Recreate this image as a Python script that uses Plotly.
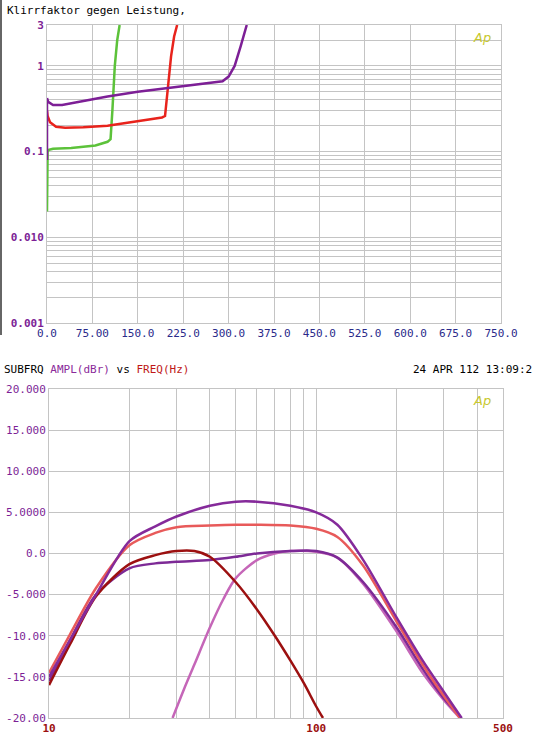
import plotly.graph_objects as go

# Klirrfaktor gegen Leistung (oben)
thd_green_x = [0, 0, 1, 3, 10, 40, 80, 100, 105, 108, 112, 116, 120]
thd_green_y = [0.02, 0.06, 0.1, 0.105, 0.108, 0.11, 0.118, 0.13, 0.14, 0.3, 1.0, 2.0, 3.0]
thd_red_x = [0, 1, 5, 15, 30, 60, 100, 150, 190, 195, 200, 205, 210, 215]
thd_red_y = [0.3, 0.26, 0.22, 0.195, 0.19, 0.192, 0.2, 0.225, 0.25, 0.26, 0.6, 1.3, 2.2, 3.0]
thd_purple_x = [0, 0, 2, 10, 25, 60, 100, 150, 200, 250, 290, 300, 310, 320, 330]
thd_purple_y = [0.08, 0.42, 0.38, 0.35, 0.35, 0.39, 0.44, 0.5, 0.55, 0.6, 0.66, 0.75, 1.0, 1.7, 3.0]

# SUBFRQ Amplitude vs Frequenz (unten)
fr_top_f = [10, 12, 15, 20, 25, 30, 40, 50, 60, 80, 100, 120, 150, 200, 250, 300, 350]
fr_top_a = [-15.0, -10.5, -5.0, 1.5, 3.3, 4.5, 5.8, 6.3, 6.3, 5.8, 5.0, 3.5, -0.8, -7.8, -13.0, -16.8, -20.0]
fr_salmon_f = [10, 12, 15, 20, 25, 30, 40, 50, 60, 80, 100, 120, 150, 200, 250, 300, 345]
fr_salmon_a = [-14.5, -9.8, -4.2, 1.0, 2.5, 3.2, 3.4, 3.5, 3.5, 3.4, 3.0, 2.0, -1.5, -8.3, -13.5, -17.3, -20.0]
fr_dark_f = [10, 12, 15, 20, 25, 30, 35, 40, 50, 60, 70, 80, 90, 100, 106]
fr_dark_a = [-16.0, -11.0, -5.2, -1.3, -0.2, 0.3, 0.3, -0.4, -3.5, -6.8, -10.0, -13.0, -15.8, -18.6, -20.0]
fr_low_f = [10, 12, 15, 20, 25, 30, 40, 50, 60, 80, 100, 120, 150, 200, 250, 300, 350]
fr_low_a = [-15.5, -10.5, -5.0, -1.8, -1.2, -1.0, -0.8, -0.4, 0.0, 0.3, 0.3, -0.5, -3.5, -9.0, -14.0, -17.6, -20.0]
fr_hp_f = [29, 32, 35, 40, 45, 50, 60, 70, 80, 100, 120, 150, 200, 250, 300, 345]
fr_hp_a = [-20.0, -16.5, -13.5, -9.0, -5.5, -3.0, -0.8, 0.0, 0.3, 0.2, -0.5, -3.7, -9.5, -14.5, -17.8, -20.0]

x_ticks_top = [0, 75, 150, 225, 300, 375, 450, 525, 600, 675, 750]
x_labels_top = ["0.0", "75.00", "150.0", "225.0", "300.0", "375.0", "450.0", "525.0", "600.0", "675.0", "750.0"]
y_ticks_top = [0.001, 0.01, 0.1, 1, 3]
y_labels_top = ["0.001", "0.010", "0.1", "1", "3"]
y_ticks_bot = [20, 15, 10, 5, 0, -5, -10, -15, -20]
y_labels_bot = ["20.000", "15.000", "10.000", "5.0000", "0.0", "-5.000", "-10.00", "-15.00", "-20.00"]

MONO = "DejaVu Sans Mono"
GRID = "#c4c4c4"
L, R = 45, 29
W = 533 - L - R
H = 756


def px(p):
    # Pixel im Bild -> paper-x
    return (p - L) / W


def py(p):
    # Pixel im Bild -> paper-y
    return 1 - p / H


fig = go.Figure()
for xs, ys, col in [(thd_green_x, thd_green_y, "#5cc23a"),
                    (thd_red_x, thd_red_y, "#e8231c"),
                    (thd_purple_x, thd_purple_y, "#7d1f96")]:
    fig.add_trace(go.Scatter(x=xs, y=ys, mode="lines", line=dict(color=col, width=2.5),
                             xaxis="x", yaxis="y", showlegend=False))

for xs, ys, col in [(fr_hp_f, fr_hp_a, "#c566b8"),
                    (fr_low_f, fr_low_a, "#7d2a96"),
                    (fr_dark_f, fr_dark_a, "#9c1010"),
                    (fr_salmon_f, fr_salmon_a, "#e85a5a"),
                    (fr_top_f, fr_top_a, "#852a9a")]:
    fig.add_trace(go.Scatter(x=xs, y=ys, mode="lines",
                             line=dict(color=col, width=2.5, shape="spline", smoothing=0.8),
                             xaxis="x2", yaxis="y2", showlegend=False))

common = dict(showgrid=True, gridcolor=GRID, zeroline=False, linecolor=GRID, mirror=True,
              ticks="", automargin=False)
fig.update_layout(
    width=533, height=H,
    margin=dict(l=L, r=R, t=0, b=0),
    paper_bgcolor="white", plot_bgcolor="white",
    font=dict(family=MONO, size=11),
    xaxis=dict(domain=[px(47), px(501)], range=[0, 750], tickvals=x_ticks_top, ticktext=x_labels_top,
               tickfont=dict(color="#2a2a8a", family=MONO, size=11), **common),
    yaxis=dict(domain=[py(323), py(25)], type="log", range=[-3, 0.477], tickvals=y_ticks_top,
               ticktext=["<b>%s</b>" % t for t in y_labels_top],
               minor=dict(showgrid=True, gridcolor=GRID, dtick="D1"),
               tickfont=dict(color="#7d1f96", family=MONO, size=11), **common),
    xaxis2=dict(domain=[px(49), px(503)], type="log", range=[1, 2.699], anchor="y2",
                tickvals=[10, 100, 500], ticktext=["<b>10</b>", "<b>100</b>", "<b>500</b>"],
                minor=dict(showgrid=True, gridcolor=GRID, dtick="D1"),
                tickfont=dict(color="#9c1010", family=MONO, size=11), **common),
    yaxis2=dict(domain=[py(718), py(389)], range=[-20, 20], anchor="x2", tickvals=y_ticks_bot,
                ticktext=y_labels_bot,
                tickfont=dict(color="#7d1f96", family=MONO, size=11), **common),
)

fig.add_annotation(text="Klirrfaktor gegen Leistung,", xref="paper", yref="paper", x=px(5), y=py(2),
                   xanchor="left", yanchor="top", showarrow=False, font=dict(family=MONO, size=11, color="black"))
fig.add_annotation(text="SUBFRQ <span style='color:#8a2a9a'>AMPL(dBr)</span> vs <span style='color:#c01818'>FREQ(Hz)</span>",
                   xref="paper", yref="paper", x=px(2), y=py(369), xanchor="left", yanchor="middle",
                   showarrow=False, font=dict(family=MONO, size=11, color="black"))
fig.add_annotation(text="24 APR 112 13:09:2", xref="paper", yref="paper", x=px(411), y=py(369),
                   xanchor="left", yanchor="middle", showarrow=False, font=dict(family=MONO, size=11, color="black"))
for yy in [38, 400]:
    fig.add_annotation(text="<i>Ap</i>", xref="paper", yref="paper", x=px(493), y=py(yy), xanchor="right",
                       yanchor="middle", showarrow=False, font=dict(family="DejaVu Sans", size=13, color="#c8c830"))
fig.add_shape(type="line", xref="paper", yref="paper", x0=px(1), x1=px(1), y0=py(335), y1=1.0,
              line=dict(color="#333333", width=1.5))

fig.write_html("out.html", config={"displayModeBar": False},
               post_script="document.body.style.margin='0';")
